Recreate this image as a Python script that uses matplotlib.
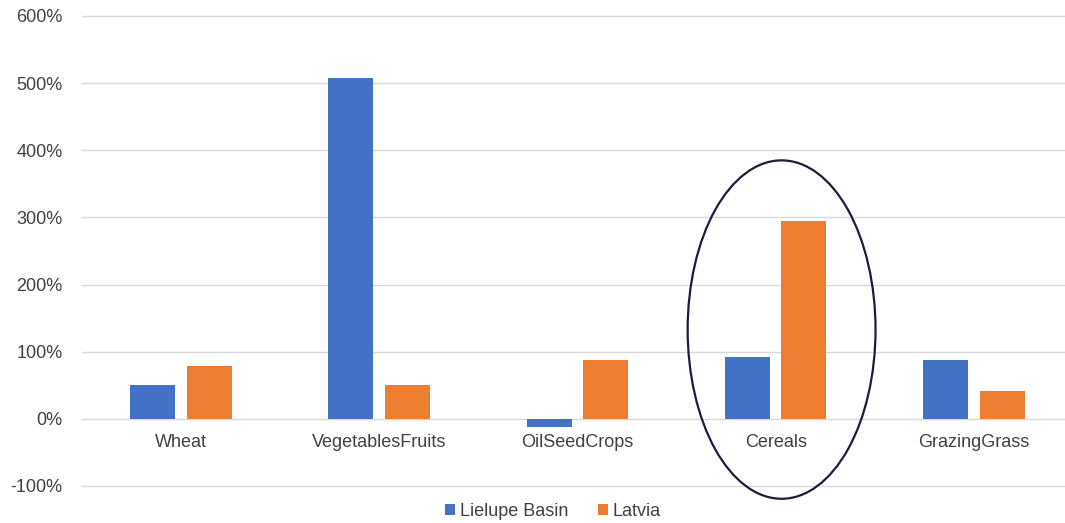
import matplotlib
matplotlib.use("Agg")
import matplotlib.pyplot as plt
from matplotlib.patches import Ellipse
from matplotlib.ticker import FuncFormatter
import numpy as np

plt.rcParams['font.family'] = ['Liberation Sans', 'DejaVu Sans']

categories = ["Wheat", "VegetablesFruits", "OilSeedCrops", "Cereals", "GrazingGrass"]
lielupe = [51, 508, -12, 92, 88]
latvia = [79, 51, 87, 294, 42]
series_names = ["Lielupe Basin", "Latvia"]
colors = ["#4472C4", "#ED7D31"]

W, H = 1065, 523
FS = 13
fig = plt.figure(figsize=(W / 100, H / 100), dpi=100)
ax = fig.add_axes([82 / W, 1 - 486 / H, (1065 - 82) / W, (486 - 16) / H])

x = np.arange(len(categories))
bw = 0.227
off = 0.143
ax.bar(x - off, lielupe, bw, color=colors[0], label=series_names[0], zorder=3)
ax.bar(x + off, latvia, bw, color=colors[1], label=series_names[1], zorder=3)

ax.set_ylim(-100, 600)
ax.set_xlim(-0.5, 4.46)
ax.set_yticks(np.arange(-100, 601, 100))
ax.yaxis.set_major_formatter(FuncFormatter(lambda v, p: f"{int(v)}%"))
ax.grid(axis='y', color='#d9d9d9', linewidth=1.0, zorder=0)
for gl in ax.get_ygridlines():
    gl.set_clip_on(False)
for s in ax.spines.values():
    s.set_visible(False)
ax.tick_params(axis='both', length=0, labelsize=FS, colors='#404040')
ax.tick_params(axis='y', pad=14)
ax.set_xticks([])
for xi, c in zip(x, categories):
    ax.text(xi, -35, c, ha='center', va='center', fontsize=FS, color='#404040', zorder=4)

# Highlight around the Cereals group
ell = Ellipse((3.03, 133), 0.948, 504, fill=False, edgecolor='#1c1c3c',
              linewidth=1.6, clip_on=False, zorder=5)
ax.add_patch(ell)

leg = fig.legend(loc='center', bbox_to_anchor=(553 / W, 1 - 511 / H), ncol=2,
                 frameon=False, fontsize=FS, handlelength=0.55, handleheight=0.55,
                 handletextpad=0.3, columnspacing=1.6)
for t in leg.get_texts():
    t.set_color('#404040')

fig.savefig("out.png", dpi=100)
